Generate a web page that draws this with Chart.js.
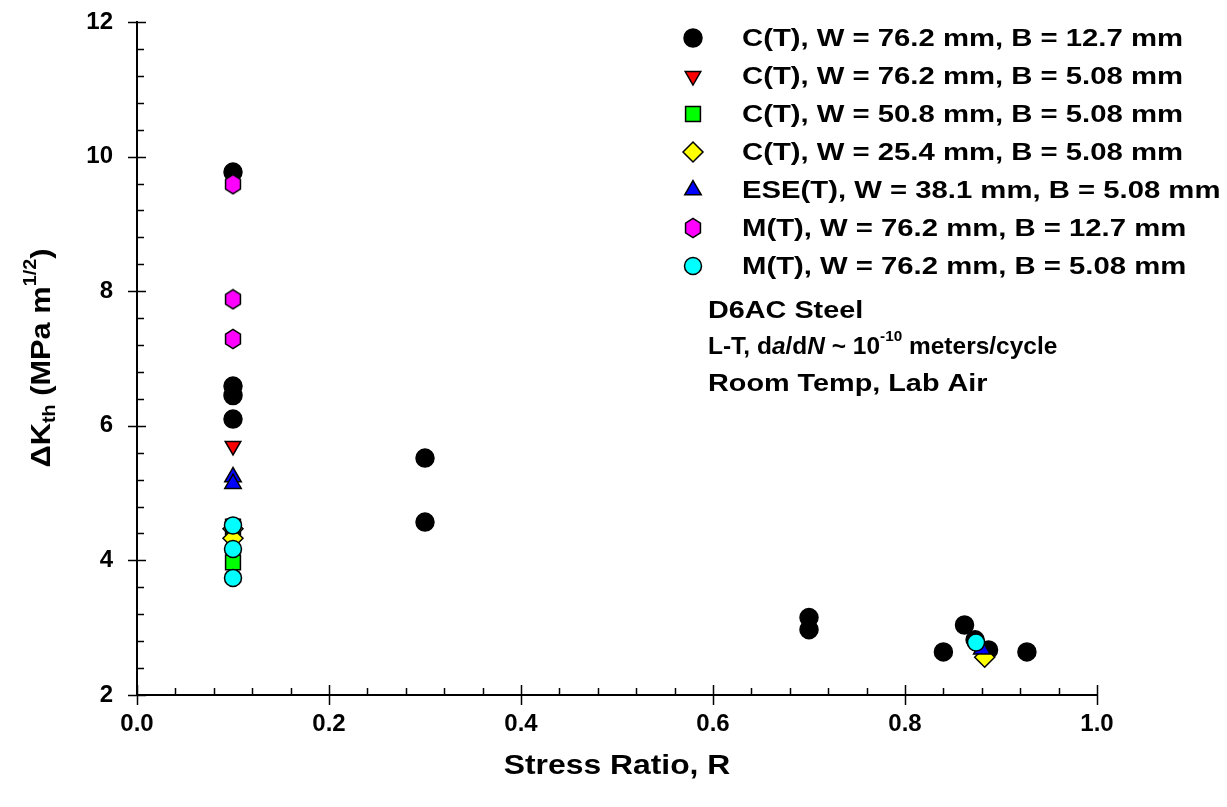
<!DOCTYPE html>
<html>
<head>
<meta charset="utf-8">
<script src="https://cdn.jsdelivr.net/npm/chart.js@4.4.0/dist/chart.umd.min.js"></script>
<style>
  html, body { margin: 0; padding: 0; background: #fff; }
  canvas { display: block; }
</style>
</head>
<body>
<canvas id="grafica" width="1227" height="807"></canvas>
<script>
// datos (D6AC, umbral vs R)
var ctGrande_R = [0.1, 0.1, 0.1, 0.1, 0.3, 0.3, 0.7, 0.7, 0.84, 0.862, 0.873, 0.887, 0.927];
var ctGrande_K = [9.77, 6.59, 6.45, 6.10, 5.52, 4.57, 3.15, 2.97, 2.64, 3.04, 2.82, 2.67, 2.64];

var ct76_R = [0.1];
var ct76_K = [5.70];

var ct50_R = [0.1, 0.1];
var ct50_K = [4.50, 3.97];

var ct25_R = [0.1, 0.1, 0.883];
var ct25_K = [4.47, 4.33, 2.56];

var ese_R = [0.1, 0.1, 0.88];
var ese_K = [5.24, 5.14, 2.68];

var mtGrande_R = [0.1, 0.1, 0.1];
var mtGrande_K = [9.59, 7.88, 7.29];

var mtDelgado_R = [0.1, 0.1, 0.1, 0.874];
var mtDelgado_K = [4.52, 4.17, 3.74, 2.78];

var etiquetas = [
  'C(T), W = 76.2 mm, B = 12.7 mm',
  'C(T), W = 76.2 mm, B = 5.08 mm',
  'C(T), W = 50.8 mm, B = 5.08 mm',
  'C(T), W = 25.4 mm, B = 5.08 mm',
  'ESE(T), W = 38.1 mm, B = 5.08 mm',
  'M(T), W = 76.2 mm, B = 12.7 mm',
  'M(T), W = 76.2 mm, B = 5.08 mm'
];

var xTicks = [0, 0.2, 0.4, 0.6, 0.8, 1.0];
var yTicks = [2, 4, 6, 8, 10, 12];

function puntos(rs, ks) {
  return rs.map(function (r, i) { return { x: r, y: ks[i] }; });
}

// hexagono (no existe en Chart.js)
function hexagono(color) {
  var c = document.createElement('canvas');
  c.width = 20; c.height = 22;
  var g = c.getContext('2d');
  g.beginPath();
  for (var i = 0; i < 6; i++) {
    var a = Math.PI / 2 + i * Math.PI / 3;
    var px = 10 + 8.6 * Math.cos(a);
    var py = 11 - 9.6 * Math.sin(a);
    if (i === 0) g.moveTo(px, py); else g.lineTo(px, py);
  }
  g.closePath();
  g.fillStyle = color;
  g.fill();
  g.lineWidth = 1.5;
  g.strokeStyle = '#000';
  g.stroke();
  return c;
}
var hexMagenta = hexagono('#ff00ff');

var estilos = [
  { data: puntos(ctGrande_R, ctGrande_K), pointStyle: 'circle', backgroundColor: '#000', radius: 9, rotation: 0 },
  { data: puntos(ct76_R, ct76_K), pointStyle: 'triangle', backgroundColor: '#ff0000', radius: 9, rotation: 180 },
  { data: puntos(ct50_R, ct50_K), pointStyle: 'rect', backgroundColor: '#00ff00', radius: 10.5, rotation: 0 },
  { data: puntos(ct25_R, ct25_K), pointStyle: 'rectRot', backgroundColor: '#ffff00', radius: 10, rotation: 0 },
  { data: puntos(ese_R, ese_K), pointStyle: 'triangle', backgroundColor: '#0000ff', radius: 9.5, rotation: 0 },
  { data: puntos(mtGrande_R, mtGrande_K), pointStyle: hexMagenta, backgroundColor: '#ff00ff', radius: 9, rotation: 0 },
  { data: puntos(mtDelgado_R, mtDelgado_K), pointStyle: 'circle', backgroundColor: '#00ffff', radius: 8.5, rotation: 0 }
];

var datasets = estilos.map(function (e, i) {
  return {
    label: etiquetas[i],
    data: e.data,
    pointStyle: e.pointStyle,
    pointRadius: e.radius,
    pointHoverRadius: e.radius,
    pointRotation: e.rotation,
    pointBackgroundColor: e.backgroundColor,
    pointBorderColor: '#000',
    pointBorderWidth: 1.5,
    showLine: false,
    order: 6 - i
  };
});

var FUENTE = '"Liberation Sans", Arial, sans-serif';

// ejes, marcas, leyenda y textos
var extras = {
  id: 'extras',
  afterDraw: function (chart) {
    var ctx = chart.ctx;
    var xs = chart.scales.x, ys = chart.scales.y;
    var a = chart.chartArea;
    ctx.save();
    ctx.strokeStyle = '#000';
    ctx.lineWidth = 2;
    ctx.beginPath();
    ctx.moveTo(a.left, a.top - 1);
    ctx.lineTo(a.left, a.bottom);
    ctx.lineTo(a.right, a.bottom);
    ctx.stroke();
    ctx.lineWidth = 1.5;
    ctx.beginPath();
    for (var v = 2; v <= 12.001; v += 0.4) {
      var py = Math.round(ys.getPixelForValue(v)) + 0.5;
      var mayor = Math.abs(v / 2 - Math.round(v / 2)) < 0.01;
      ctx.moveTo(a.left - (mayor ? 9 : 0), py);
      ctx.lineTo(a.left + (mayor ? 9 : 7), py);
    }
    for (var r = 0; r <= 1.0001; r += 0.04) {
      var px = Math.round(xs.getPixelForValue(r)) + 0.5;
      var may = Math.abs(r / 0.2 - Math.round(r / 0.2)) < 0.01;
      ctx.moveTo(px, a.bottom + (may ? 10 : 0));
      ctx.lineTo(px, a.bottom - (may ? 10 : 7));
    }
    ctx.stroke();

    // leyenda
    ctx.fillStyle = '#000';
    ctx.textBaseline = 'middle';
    ctx.textAlign = 'left';
    chart.data.datasets.forEach(function (ds, i) {
      var yy = 38 + i * 38;
      ctx.save();
      ctx.fillStyle = ds.pointBackgroundColor;
      ctx.strokeStyle = '#000';
      ctx.lineWidth = 1.5;
      Chart.helpers.drawPoint(ctx, {
        pointStyle: ds.pointStyle,
        radius: ds.pointRadius,
        rotation: ds.pointRotation,
        borderWidth: 1.5
      }, 693, yy);
      ctx.restore();
      ctx.save();
      ctx.translate(742, yy);
      ctx.scale(1.22, 1);
      ctx.font = 'bold 24px ' + FUENTE;
      ctx.fillStyle = '#000';
      ctx.fillText(ds.label, 0, 1);
      ctx.restore();
    });

    // texto del material
    function linea(partes, x0, y0, sx) {
      ctx.save();
      ctx.translate(x0, y0);
      ctx.scale(sx, 1);
      var x = 0;
      partes.forEach(function (p) {
        ctx.font = (p.it ? 'italic ' : '') + 'bold ' + (p.sz || 24) + 'px ' + FUENTE;
        ctx.fillText(p.t, x, p.dy || 0);
        x += ctx.measureText(p.t).width;
      });
      ctx.restore();
    }
    ctx.textBaseline = 'middle';
    linea([{ t: 'D6AC Steel' }], 708, 311, 1.2);
    linea([{ t: 'L-T, d' }, { t: 'a', it: true }, { t: '/d' }, { t: 'N', it: true }, { t: ' ~ 10' },
           { t: '-10', sz: 15, dy: -10 }, { t: ' meters/cycle' }], 708, 347, 1.02);
    linea([{ t: 'Room Temp, Lab Air' }], 708, 384, 1.2);

    // titulo eje x
    ctx.save();
    ctx.translate(617, 767);
    ctx.scale(1.18, 1);
    ctx.font = 'bold 27px ' + FUENTE;
    ctx.textAlign = 'center';
    ctx.fillText('Stress Ratio, R', 0, 0);
    ctx.restore();

    // titulo eje y
    ctx.save();
    ctx.translate(42, 358);
    ctx.rotate(-Math.PI / 2);
    ctx.scale(1.1, 1);
    var partesY = [{ t: '\u0394K', sz: 28 }, { t: 'th', sz: 18, dy: 8 }, { t: ' (MPa m', sz: 28 },
                   { t: '1/2', sz: 18, dy: -11 }, { t: ')', sz: 28 }];
    var total = 0;
    partesY.forEach(function (p) { ctx.font = 'bold ' + p.sz + 'px ' + FUENTE; total += ctx.measureText(p.t).width; });
    var xx = -total / 2;
    ctx.textAlign = 'left';
    partesY.forEach(function (p) {
      ctx.font = 'bold ' + p.sz + 'px ' + FUENTE;
      ctx.fillText(p.t, xx, p.dy || 0);
      xx += ctx.measureText(p.t).width;
    });
    ctx.restore();
    ctx.restore();
  }
};

var grafica = new Chart(document.getElementById('grafica'), {
  type: 'scatter',
  data: { datasets: datasets },
  options: {
    responsive: false,
    animation: false,
    devicePixelRatio: 1,
    layout: { padding: { top: 22, right: 130, left: 0, bottom: 0 } },
    plugins: {
      legend: { display: false },
      tooltip: { enabled: false },
      title: { display: false }
    },
    scales: {
      x: {
        type: 'linear',
        min: 0, max: 1,
        afterFit: function (s) { s.height = 112; s.paddingLeft = 0; s.paddingRight = 0; },
        afterBuildTicks: function (s) { s.ticks = xTicks.map(function (v) { return { value: v }; }); },
        border: { display: false },
        grid: { display: false, drawTicks: true, tickLength: 8 },
        ticks: {
          color: '#000',
          padding: 7,
          maxRotation: 0,
          font: { family: FUENTE, size: 24, weight: 'bold' },
          callback: function (v) { return v.toFixed(1); }
        }
      },
      y: {
        type: 'linear',
        min: 2, max: 12,
        afterFit: function (s) { s.width = 137; s.paddingTop = 0; s.paddingBottom = 0; },
        afterBuildTicks: function (s) { s.ticks = yTicks.map(function (v) { return { value: v }; }); },
        border: { display: false },
        grid: { display: false, drawTicks: true, tickLength: 8 },
        ticks: {
          color: '#000',
          padding: 16,
          font: { family: FUENTE, size: 24, weight: 'bold' }
        }
      }
    }
  },
  plugins: [extras]
});
</script>
</body>
</html>
